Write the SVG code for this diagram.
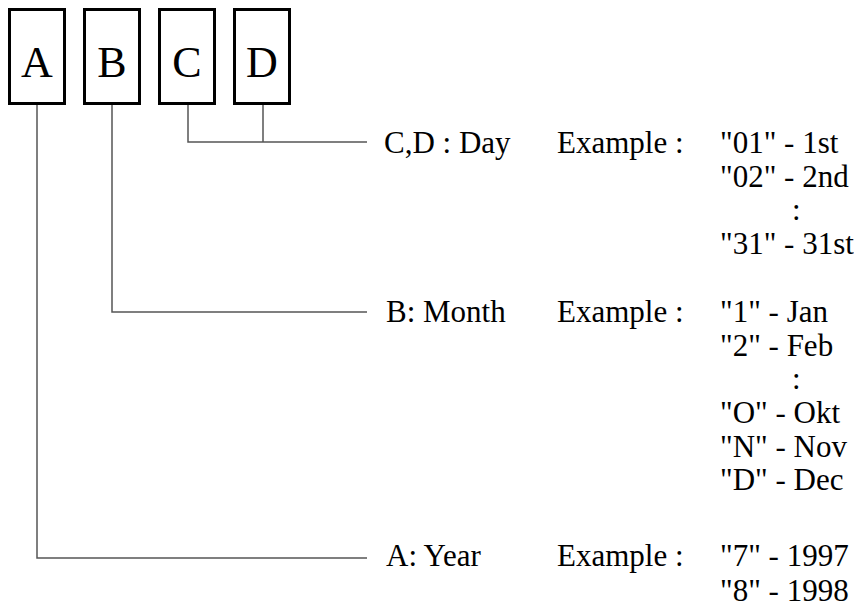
<svg xmlns="http://www.w3.org/2000/svg" width="854" height="610" viewBox="0 0 854 610">
<style>
.box{fill:#fff;stroke:#000;stroke-width:3}
.lt{font-family:'Liberation Serif','Times New Roman',serif;font-size:44px;fill:#000;text-anchor:middle}
.t{font-family:'Liberation Serif','Times New Roman',serif;font-size:31px;fill:#000}
.conn path{fill:none;stroke:#555;stroke-width:1.5}
</style>
<rect width="854" height="610" fill="#fff"/>
<g id="nodeA"><rect class="box" x="9.5" y="9.5" width="55" height="94"/><text class="lt" x="37" y="77">A</text></g>
<g id="nodeB"><rect class="box" x="84.5" y="9.5" width="55" height="94"/><text class="lt" x="112" y="77">B</text></g>
<g id="nodeC"><rect class="box" x="159.5" y="9.5" width="55" height="94"/><text class="lt" x="187" y="77">C</text></g>
<g id="nodeD"><rect class="box" x="234.5" y="9.5" width="55" height="94"/><text class="lt" x="262" y="77">D</text></g>
<g class="conn" id="connectors">
<path d="M188 105V142H367"/>
<path d="M263 105V142"/>
<path d="M112 105V312H367"/>
<path d="M37 105V558H367"/>
</g>
<g id="day">
<text class="t" x="384" y="153">C,D : Day</text>
<text class="t" x="557" y="153">Example :</text>
<text class="t" x="720" y="153">"01" - 1st</text>
<text class="t" x="720" y="187">"02" - 2nd</text>
<text class="t" x="792" y="220">:</text>
<text class="t" x="720" y="254">"31" - 31st</text>
</g>
<g id="month">
<text class="t" x="386" y="322">B: Month</text>
<text class="t" x="557" y="322">Example :</text>
<text class="t" x="720" y="322">"1" - Jan</text>
<text class="t" x="720" y="356">"2" - Feb</text>
<text class="t" x="792" y="389">:</text>
<text class="t" x="720" y="423">"O" - Okt</text>
<text class="t" x="720" y="457">"N" - Nov</text>
<text class="t" x="720" y="490">"D" - Dec</text>
</g>
<g id="year">
<text class="t" x="386" y="566">A: Year</text>
<text class="t" x="557" y="566">Example :</text>
<text class="t" x="720" y="566">"7" - 1997</text>
<text class="t" x="720" y="601">"8" - 1998</text>
</g>
</svg>
